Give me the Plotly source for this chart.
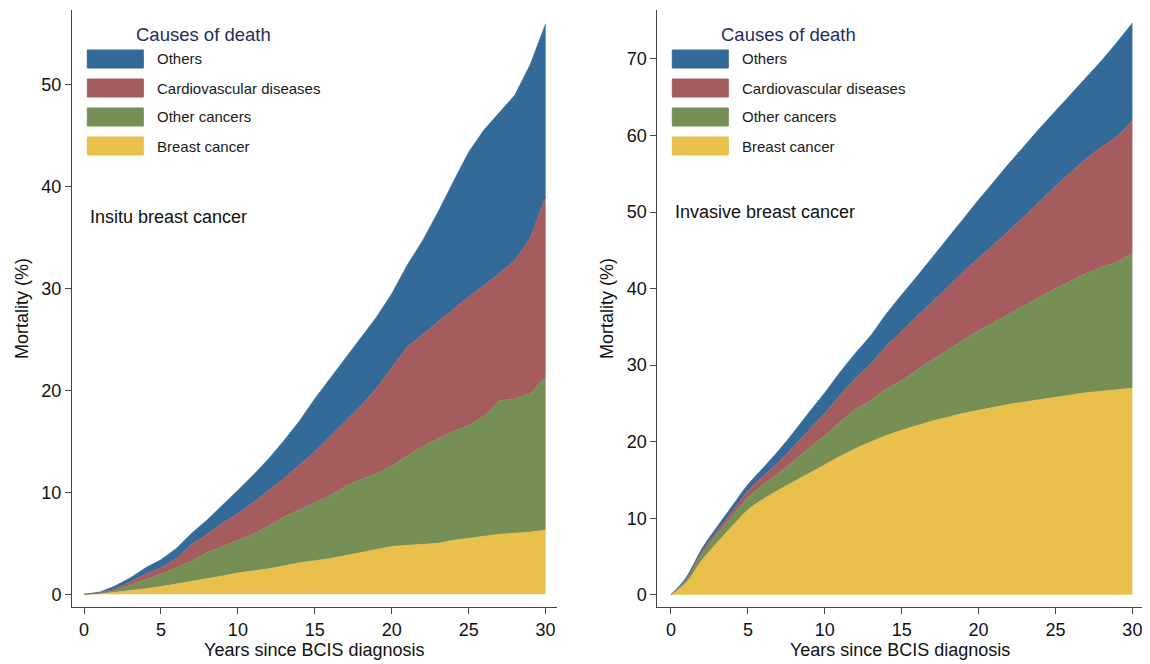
import plotly.graph_objects as go

# ---------------- data ----------------
years = list(range(0, 31))

causes = ["Breast cancer", "Other cancers", "Cardiovascular diseases", "Others"]
colors = ["#e8c04b", "#768f55", "#a45c5f", "#336a98"]

# Insitu breast cancer: cumulative mortality (%) by cause
insitu_breast = [0, 0.05, 0.2, 0.35, 0.55, 0.75, 1.0, 1.25, 1.5, 1.8, 2.1, 2.3, 2.5, 2.8, 3.1, 3.3,
                 3.5, 3.8, 4.1, 4.4, 4.7, 4.8, 4.9, 5.0, 5.3, 5.5, 5.7, 5.9, 6.0, 6.1, 6.3]
insitu_other_cancers = [0, 0.05, 0.15, 0.55, 0.85, 1.25, 1.6, 2.05, 2.6, 2.9, 3.2, 3.6, 4.2, 4.8, 5.2, 5.7,
                        6.2, 6.8, 7.2, 7.4, 7.9, 8.8, 9.6, 10.3, 10.7, 11.1, 11.8, 13.1, 13.2, 13.6, 15.0]
insitu_cvd = [0, 0.05, 0.15, 0.3, 0.6, 0.6, 0.9, 1.6, 1.8, 2.3, 2.6, 3.1, 3.5, 3.8, 4.4, 5.0,
              5.8, 6.4, 7.2, 8.4, 9.7, 10.7, 11.0, 11.4, 12.0, 12.6, 12.8, 12.5, 13.6, 15.3, 17.7]
insitu_others = [0, 0.05, 0.3, 0.4, 0.6, 0.8, 1.0, 1.1, 1.4, 1.7, 2.3, 2.7, 3.1, 3.7, 4.3, 5.2,
                 5.7, 6.2, 6.7, 7.0, 7.2, 8.0, 9.2, 10.8, 12.5, 14.2, 15.3, 15.8, 16.2, 17.0, 17.0]

# Invasive breast cancer: cumulative mortality (%) by cause
invasive_breast = [0, 1.6, 4.5, 6.8, 9.0, 11.1, 12.5, 13.7, 14.8, 15.9, 17.0, 18.1, 19.1, 20.0, 20.8, 21.5,
                   22.1, 22.7, 23.2, 23.7, 24.1, 24.5, 24.9, 25.2, 25.5, 25.8, 26.1, 26.4, 26.6, 26.8, 27.0]
invasive_other_cancers = [0, 0.3, 0.8, 1.1, 1.35, 1.6, 1.9, 2.2, 2.7, 3.3, 3.8, 4.5, 5.1, 5.4, 6.1, 6.5,
                          7.3, 8.0, 8.8, 9.6, 10.4, 11.1, 11.8, 12.6, 13.4, 14.2, 14.9, 15.6, 16.2, 16.7, 17.7]
invasive_cvd = [0, 0.2, 0.3, 0.45, 0.6, 0.85, 1.1, 1.45, 1.9, 2.4, 2.9, 3.5, 4.1, 4.8, 5.6, 6.4,
                7.0, 7.6, 8.2, 8.9, 9.5, 10.2, 10.9, 11.7, 12.5, 13.4, 14.2, 15.0, 15.7, 16.4, 17.3]
invasive_others = [0, 0.2, 0.4, 0.55, 0.7, 0.85, 1.1, 1.5, 1.9, 2.3, 2.7, 3.0, 3.3, 3.7, 4.2, 4.8,
                   5.2, 5.8, 6.4, 6.9, 7.6, 8.2, 8.8, 9.2, 9.6, 9.8, 10.2, 10.6, 11.3, 12.3, 12.7]

x_ticks = [0, 5, 10, 15, 20, 25, 30]
panel_titles = ["Insitu breast cancer", "Invasive breast cancer"]
legend_title = "Causes of death"
x_title = "Years since BCIS diagnosis"
y_title = "Mortality (%)"

# ---------------- layout geometry ----------------
# The page body adds an 8px offset; geometry below is in screenshot pixels.
OFF = 8
W, H = 1150 - OFF, 664 - OFF
PLOT_L, PLOT_R, PLOT_T, PLOT_B = 72, 1143, 10, 607
ML, MR, MT, MB = PLOT_L - OFF, W - (PLOT_R - OFF), PLOT_T - OFF, H - (PLOT_B - OFF)
PW = W - ML - MR
PH = H - MT - MB


def px_x(p):
    return (p - PLOT_L) / PW


def px_y(p):
    return (PLOT_B - p) / PH


FONT = "Liberation Sans, Arial, sans-serif"

fig = go.Figure()

panels = [
    dict(series=[insitu_breast, insitu_other_cancers, insitu_cvd, insitu_others],
         xa="x", ya="y", group="insitu", shape="linear"),
    dict(series=[invasive_breast, invasive_other_cancers, invasive_cvd, invasive_others],
         xa="x2", ya="y2", group="invasive", shape="spline"),
]

for p in panels:
    for name, col, vals in zip(causes, colors, p["series"]):
        fig.add_trace(go.Scatter(
            x=years, y=vals, name=name, mode="lines",
            stackgroup=p["group"], xaxis=p["xa"], yaxis=p["ya"],
            line=dict(color=col, width=0.6, shape=p["shape"]),
            fillcolor=col, showlegend=False,
        ))

axis_common = dict(
    showgrid=False, zeroline=False, showline=True, linecolor="#444", linewidth=1,
    ticks="outside", ticklen=6, tickcolor="#444", tickwidth=1,
    tickfont=dict(family=FONT, size=18, color="#111"),
    title_font=dict(family=FONT, size=18, color="#111"),
)

left_dom = [0, px_x(556.7)]
right_dom = [px_x(657.3), 1.0]

fig.update_layout(
    width=W, height=H,
    margin=dict(l=ML, r=MR, t=MT, b=MB),
    paper_bgcolor="white", plot_bgcolor="white",
    font=dict(family=FONT, color="#111"),
    showlegend=False,
    xaxis=dict(domain=left_dom, range=[-0.78, 30.72], tickvals=x_ticks,
               title=dict(text=x_title, standoff=0), anchor="y", **axis_common),
    yaxis=dict(domain=[0, 1], range=[-1.25, 57.35], dtick=10,
               title=dict(text=y_title, standoff=8), anchor="x", **axis_common),
    xaxis2=dict(domain=right_dom, range=[-0.89, 30.69], tickvals=x_ticks,
                title=dict(text=x_title, standoff=0), anchor="y2", **axis_common),
    yaxis2=dict(domain=[0, 1], range=[-1.6, 76.4], dtick=10,
                title=dict(text=y_title, standoff=8), anchor="x2", **axis_common),
)

# ---------------- legends (drawn per panel) and panel labels ----------------
axis_left_px = [72.3, 657.3]
panel_label_y = [217, 212]
legend_order = [3, 2, 1, 0]  # Others, CVD, Other cancers, Breast cancer
row_centers = [59, 88, 117, 146]

shapes = []
annotations = []
for k, ax0 in enumerate(axis_left_px):
    annotations.append(dict(
        x=px_x(ax0 + 62), y=px_y(35), xref="paper", yref="paper",
        text=legend_title, showarrow=False, xanchor="left", yanchor="middle",
        font=dict(family=FONT, size=18.5, color="#1f2d5c"),
    ))
    for row, idx in enumerate(legend_order):
        cy = row_centers[row]
        shapes.append(dict(
            type="rect", xref="paper", yref="paper",
            x0=px_x(ax0 + 15), x1=px_x(ax0 + 71),
            y0=px_y(cy + 9), y1=px_y(cy - 9),
            fillcolor=colors[idx], line=dict(color=colors[idx], width=1),
        ))
        annotations.append(dict(
            x=px_x(ax0 + 83), y=px_y(cy), xref="paper", yref="paper",
            text=causes[idx], showarrow=False, xanchor="left", yanchor="middle",
            font=dict(family=FONT, size=15, color="#1a1a1a"),
        ))
    annotations.append(dict(
        x=px_x(ax0 + 16), y=px_y(panel_label_y[k]), xref="paper", yref="paper",
        text=panel_titles[k], showarrow=False, xanchor="left", yanchor="middle",
        font=dict(family=FONT, size=18, color="#111"),
    ))

fig.update_layout(shapes=shapes, annotations=annotations)

fig.write_html("out.html")
